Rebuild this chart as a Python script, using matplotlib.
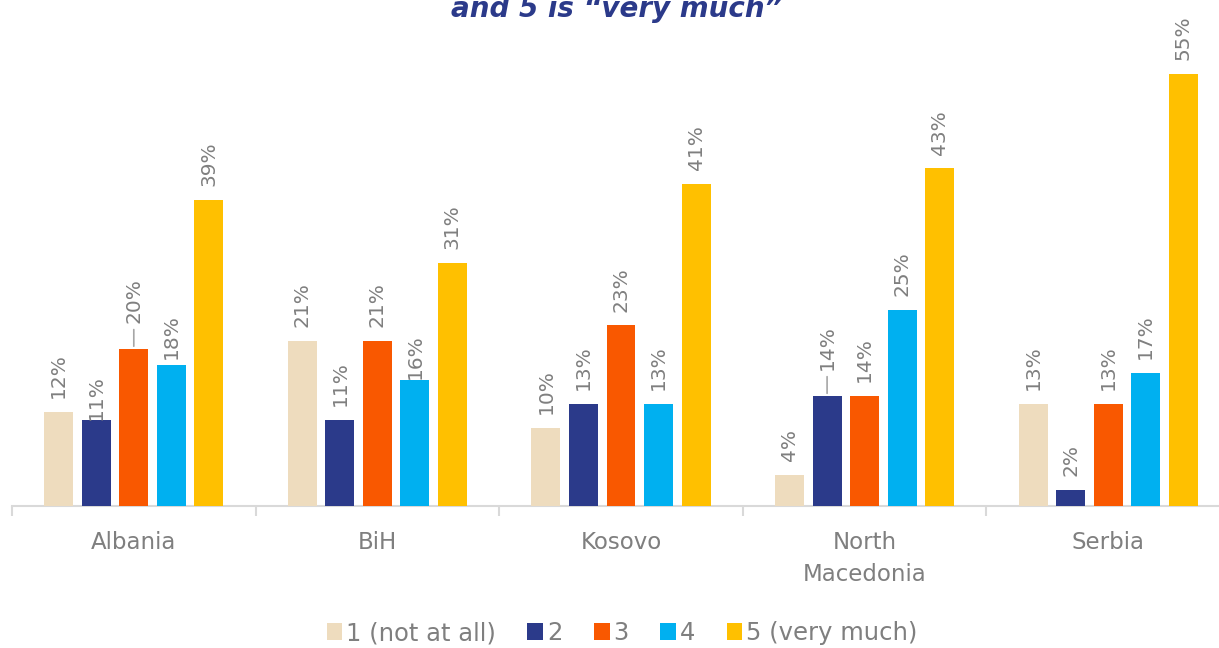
"""Grouped bar chart: rating distribution by country."""

import matplotlib
import numpy as np

matplotlib.use("Agg", force=True)
import matplotlib.pyplot as plt

countries = ["Albania", "BiH", "Kosovo", "North\nMacedonia", "Serbia"]
series_names = ["1 (not at all)", "2", "3", "4", "5 (very much)"]
values_1 = [12, 21, 10, 4, 13]
values_2 = [11, 11, 13, 14, 2]
values_3 = [20, 21, 23, 14, 13]
values_4 = [18, 16, 13, 25, 17]
values_5 = [39, 31, 41, 43, 55]
title_tail = "and 5 is \u201cvery much\u201d"

colors = ["#EEDCBE", "#2B3A8A", "#F95800", "#00B0F0", "#FFC000"]
text_gray = "#7F7F7F"

# label offsets (points) that differ from default; (series, country) -> offset
label_offsets = {(1, 0): 0, (3, 0): 4, (3, 1): 1}
leader_labels = {(2, 0): 19, (1, 3): 19}

all_values = [values_1, values_2, values_3, values_4, values_5]

plt.rcParams["font.family"] = ["DejaVu Sans"]
fig = plt.figure(figsize=(12.19, 6.48), dpi=100)
ax = fig.add_axes([12 / 1219, (648 - 506) / 648, 1218 / 1219, 506 / 648])

x = np.arange(len(countries)) + 0.5
width = 0.119
step = 0.154
for i, vals in enumerate(all_values):
    xs = x + (i - 2) * step
    ax.bar(xs, vals, width=width, color=colors[i], label=series_names[i], zorder=3)
    for j, (xv, v) in enumerate(zip(xs, vals)):
        off = label_offsets.get((i, j), 10)
        if (i, j) in leader_labels:
            off = leader_labels[(i, j)]
            ax.annotate("", xy=(xv, v), xytext=(0, off - 3), textcoords="offset points",
                        arrowprops=dict(arrowstyle="-", color="#A6A6A6", lw=1.2))
        ax.annotate(f"{v}%", xy=(xv, v), xytext=(0, off), textcoords="offset points",
                    rotation=90, ha="center", va="bottom", fontsize=14.5, color=text_gray)

ax.set_xlim(0, 5)
ax.set_ylim(0, 506 / 7.85)
for s in ["top", "right", "left"]:
    ax.spines[s].set_visible(False)
ax.spines["bottom"].set_color("#D9D9D9")
ax.spines["bottom"].set_linewidth(1.5)
ax.set_yticks([])
ax.set_xticks(np.arange(6))
ax.set_xticklabels([])
ax.tick_params(axis="x", length=7, width=1.5, color="#D9D9D9")
ax.set_xticks(x, minor=True)
ax.set_xticklabels(countries, minor=True, fontsize=16.5, color=text_gray, linespacing=1.5)
ax.tick_params(axis="x", which="minor", length=0, pad=18)

leg = fig.legend(loc="center", bbox_to_anchor=(622 / 1219, (648 - 633) / 648), ncol=5,
                 frameon=False, fontsize=17.5, handlelength=0.65, handleheight=0.65,
                 handletextpad=0.15, columnspacing=1.3)
for t in leg.get_texts():
    t.set_color(text_gray)

fig.text(617 / 1219, (648 - 17) / 648, title_tail, ha="center", va="baseline",
         fontsize=20, fontweight="bold", fontstyle="italic", color="#2B3A8A")

fig.savefig("out.png", dpi=100)
